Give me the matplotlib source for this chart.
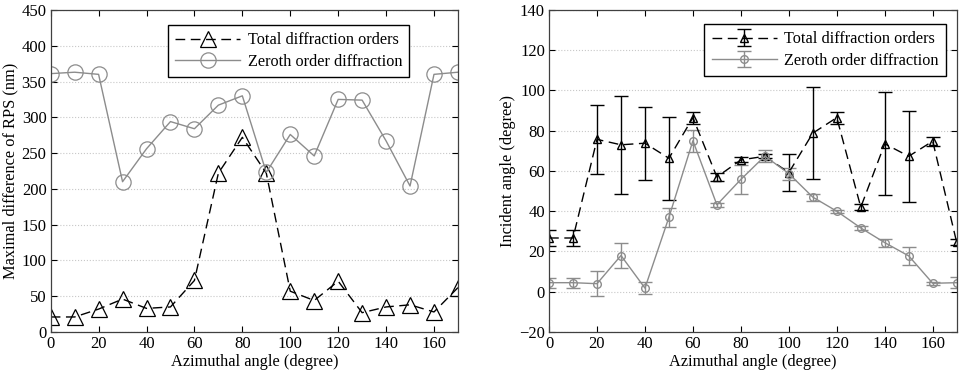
import matplotlib.pyplot as plt

plt.rcParams['font.family'] = ['Liberation Serif', 'DejaVu Serif']
plt.rcParams['font.size'] = 11

# azimuthal angles (degree)
angles = [0, 10, 20, 30, 40, 50, 60, 70, 80, 90, 100, 110, 120, 130, 140, 150, 160, 170]

# left panel: maximal difference of RPS (nm)
rps_total = [21, 21, 32, 46, 33, 35, 72, 222, 272, 222, 57, 44, 71, 27, 35, 38, 28, 62]
rps_zeroth = [361, 363, 360, 210, 256, 294, 284, 317, 330, 223, 276, 246, 325, 324, 267, 204, 360, 363]

# right panel: incident angle (degree) with error bars
inc_total = [26.7, 26.7, 75.7, 73.0, 73.8, 66.3, 86.5, 57.0, 65.5, 67.3, 59.2, 78.8, 86.5, 42.0, 73.5, 67.3, 74.8, 24.5]
inc_total_err = [4.0, 4.0, 17.2, 24.2, 18.2, 20.5, 3.0, 2.0, 1.2, 1.0, 9.0, 22.8, 3.0, 1.5, 25.5, 22.6, 2.3, 1.5]
inc_zeroth = [4.5, 4.5, 4.0, 18.0, 1.8, 37.0, 75.0, 43.2, 55.8, 67.4, 58.7, 47.0, 40.0, 31.7, 24.4, 17.8, 4.2, 4.5]
inc_zeroth_err = [2.5, 2.5, 6.2, 6.0, 3.0, 4.6, 5.6, 1.0, 7.3, 3.0, 3.0, 1.8, 0.8, 1.2, 2.0, 4.5, 0.7, 2.7]

gray = '#8c8c8c'
leg_kw = dict(loc='upper left', borderaxespad=0, fancybox=False, edgecolor='black',
              framealpha=1, handlelength=4.0, handletextpad=0.45, borderpad=0.45,
              labelspacing=0.35, fontsize=11.7)

fig = plt.figure(figsize=(9.69, 3.78), dpi=100)
ax1 = fig.add_axes([0.0523, 0.1217, 0.4203, 0.852])
ax2 = fig.add_axes([0.5666, 0.1217, 0.4207, 0.852])

#Painel esquerdo#
ax1.plot(angles, rps_total, '--', color='black', lw=1, marker='^', ms=11,
         mfc='none', mec='black', mew=0.9, dashes=(7, 4), label='Total diffraction orders')
ax1.plot(angles, rps_zeroth, '-', color=gray, lw=1, marker='o', ms=11,
         mfc='none', mec=gray, mew=0.9, label='Zeroth order diffraction')
ax1.set_xlim(0, 170)
ax1.set_ylim(0, 450)
ax1.set_xticks(range(0, 161, 20))
ax1.set_yticks(range(0, 451, 50))
ax1.set_xlabel('Azimuthal angle (degree)', labelpad=1, fontsize=11.8)
ax1.set_ylabel('Maximal difference of RPS (nm)', labelpad=2, fontsize=11.8)
ax1.legend(bbox_to_anchor=(0.288, 0.953), **leg_kw)

#Painel direito#
ax2.errorbar(angles, inc_total, yerr=inc_total_err, fmt='^--', color='black', lw=1,
             ms=5.5, mfc='none', mec='black', capsize=5, elinewidth=1, capthick=1,
             dashes=(7, 4), label='Total diffraction orders')
ax2.errorbar(angles, inc_zeroth, yerr=inc_zeroth_err, fmt='o-', color=gray, lw=1,
             ms=5.5, mfc='none', mec=gray, capsize=5, elinewidth=1, capthick=1,
             label='Zeroth order diffraction')
ax2.set_xlim(0, 170)
ax2.set_ylim(-20, 140)
ax2.set_xticks(range(0, 161, 20))
ax2.set_yticks(range(-20, 141, 20))
ax2.set_xlabel('Azimuthal angle (degree)', labelpad=1, fontsize=11.8)
ax2.set_ylabel('Incident angle (degree)', labelpad=2, fontsize=11.8)
ax2.legend(bbox_to_anchor=(0.381, 0.9565), **leg_kw)

for ax in (ax1, ax2):
    ax.yaxis.grid(True, linestyle=':', color='#c8c8c8', lw=0.8)
    ax.set_axisbelow(True)
    ax.tick_params(direction='in', top=True, right=True, length=4, labelsize=12, pad=3)
    for s in ax.spines.values():
        s.set_color('#404040')
        s.set_linewidth(0.9)

fig.savefig('out.png', dpi=100)
